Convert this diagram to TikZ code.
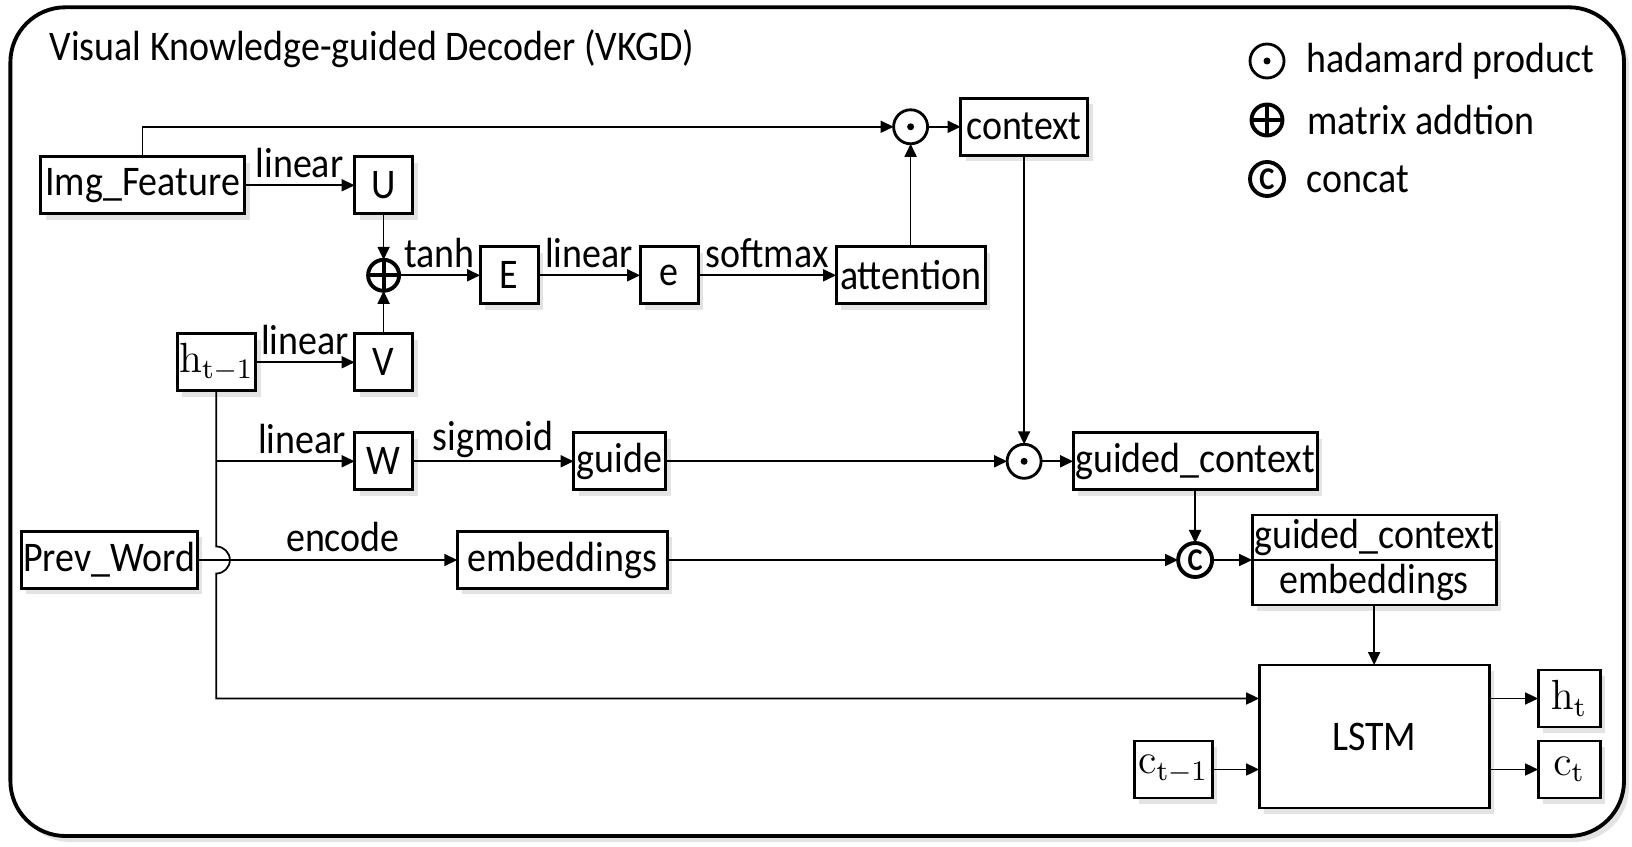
\documentclass[tikz,border=0pt]{standalone}
\usepackage[no-math]{fontspec}
\setmainfont{Carlito}[FakeStretch=0.9]
\usepackage{tikz}
\usetikzlibrary{arrows.meta,positioning,shadows}

\begin{document}
\begin{tikzpicture}[
  x=1mm, y=1mm,
  font=\fontsize{12}{14}\selectfont,
  shade/.style={drop shadow={shadow xshift=0.5mm, shadow yshift=-0.6mm, opacity=0.22}},
  box/.style={draw, line width=0.8pt, fill=white, minimum height=5.7mm, inner xsep=0.2mm, inner ysep=0.6mm, outer sep=0pt, align=center, shade},
  hadam/.style={circle, draw, line width=0.8pt, fill=white, minimum size=3.4mm, inner sep=0pt, outer sep=0pt,
    path picture={\fill[black] (path picture bounding box.center) circle (0.35mm);}},
  addop/.style={circle, draw, line width=1.1pt, fill=white, minimum size=3.1mm, inner sep=0pt, outer sep=0pt,
    path picture={\draw[line width=1.1pt] (path picture bounding box.north) -- (path picture bounding box.south)
      (path picture bounding box.west) -- (path picture bounding box.east);}},
  catop/.style={circle, draw, line width=1.1pt, fill=white, minimum size=3.4mm, inner sep=0pt, outer sep=0pt, font=\fontsize{9}{9}\selectfont\bfseries},
  arrow/.style={-{Triangle[length=1.3mm, width=1.2mm]}, line width=0.5pt},
  lbl/.style={above, inner sep=0.7mm}
]
\useasboundingbox (0,0) rectangle (163.2,-84.7);
% frame
\draw[line width=1.1pt, rounded corners=5.5mm, fill=white, shade] (1.04,-0.73) rectangle (162.4,-83.6);
\node[anchor=west, inner sep=0pt] (title) at (4.9,-4.9) {Visual Knowledge-guided Decoder (VKGD)};

% legend
\node[hadam] (keyhad) at (126.7,-6.1) {};
\node[right=2.2mm of keyhad, inner sep=0pt] (keyhadtxt) {hadamard product};
\node[addop] (keyadd) at (126.7,-12) {};
\node[right=2.4mm of keyadd, inner sep=0pt] (keyaddtxt) {matrix addtion};
\node[catop] (keycat) at (126.7,-17.9) {C};
\node[right=2.2mm of keycat, inner sep=0pt] (keycattxt) {concat};

% attention branch
\node[box, minimum width=20.4mm] (img) at (14.26,-18.53) {Img\_Feature};
\node[box, minimum width=5.8mm, right=11mm of img] (U) {U};
\node[addop, below=4.6mm of U] (plus) {};
\node[box, minimum width=5.8mm, right=8.1mm of plus] (E) {E};
\node[box, minimum width=5.8mm, right=10.2mm of E] (e) {e};
\node[box, minimum width=14.9mm, right=13.8mm of e] (att) {attention};
\node[hadam, above=10.3mm of att] (had1) {};
\node[box, minimum width=12.7mm, right=3.3mm of had1] (ctx) {context};
\node[box, minimum width=5.8mm, below=4.3mm of plus] (V) {V};
\node[box, minimum width=7.2mm, left=9.9mm of V] (hprev) {$\mathrm{h}_{\mathrm{t-1}}$};

% guide branch
\node[box, minimum width=5.8mm, below=4.2mm of V] (W) {W};
\node[box, minimum width=9.2mm, right=16.1mm of W] (guide) {guide};
\node[hadam] (had2) at (ctx |- guide) {};
\node[box, minimum width=24.4mm, right=3.2mm of had2] (gctx) {guided\_context};

% word branch
\node[box, minimum width=17.1mm] (prev) at (10.93,-56) {Prev\_Word};
\node[box, minimum width=21mm, right=26mm of prev] (emb) {embeddings};
\node[catop] (cat) at (gctx |- emb) {C};
\node[box, minimum width=24.4mm, minimum height=4.5mm, inner ysep=0.2mm, right=4mm of cat, anchor=south west] (gcat) {guided\_context};
\node[box, minimum width=24.4mm, minimum height=4.5mm, inner ysep=0.2mm, below=0mm of gcat] (ecat) {embeddings};

% lstm
\node[box, minimum width=23mm, minimum height=14.3mm, below=6mm of ecat] (lstm) {LSTM};
\node[box, minimum width=6.2mm, right=4.9mm of lstm.east, yshift=3.8mm] (ht) {$\mathrm{h}_{\mathrm{t}}$};
\node[box, minimum width=6.2mm, right=4.9mm of lstm.east, yshift=-3.3mm] (ct) {$\mathrm{c}_{\mathrm{t}}$};
\node[box, minimum width=7.8mm, left=4.7mm of lstm.west, yshift=-3.3mm] (cprev) {$\mathrm{c}_{\mathrm{t-1}}$};

\draw[arrow] (img) -- node[lbl] (l1) {linear} (U);
\draw[arrow] (U) -- (plus);
\draw[arrow] (V) -- (plus);
\draw[arrow] (plus) -- node[lbl] (l2) {tanh} (E);
\draw[arrow] (E) -- node[lbl] (l3) {linear} (e);
\draw[arrow] (e) -- node[lbl] (l4) {softmax} (att);
\draw[arrow] (att) -- (had1);
\draw[arrow] (img.north) |- (had1);
\draw[arrow] (had1) -- (ctx);
\draw[arrow] (ctx) -- (had2);
\draw[arrow] (hprev) -- node[lbl] (l5) {linear} (V);
\draw[arrow] (hprev |- W) -- node[lbl, pos=0.62] (l6) {linear} (W);
\draw[arrow] (W) -- node[lbl, inner sep=0.3mm] (l7) {sigmoid} (guide);
\draw[arrow] (guide) -- (had2);
\draw[arrow] (had2) -- (gctx);
\draw[arrow] (gctx) -- (cat);
\draw[arrow] (prev) -- node[lbl, pos=0.56] (l8) {encode} (emb);
\draw[arrow] (emb) -- (cat);
\draw[arrow] (cat) -- (cat -| gcat.west);
\draw[arrow] (ecat) -- (lstm);
\draw[arrow] (hprev) -- ([yshift=1.35mm]hprev |- prev) arc[start angle=90, end angle=-90, radius=1.35mm] |- (ht -| lstm.west);
\draw[arrow] (cprev) -- (cprev -| lstm.west);
\draw[arrow] (ht -| lstm.east) -- (ht);
\draw[arrow] (ct -| lstm.east) -- (ct);
\end{tikzpicture}
\end{document}
